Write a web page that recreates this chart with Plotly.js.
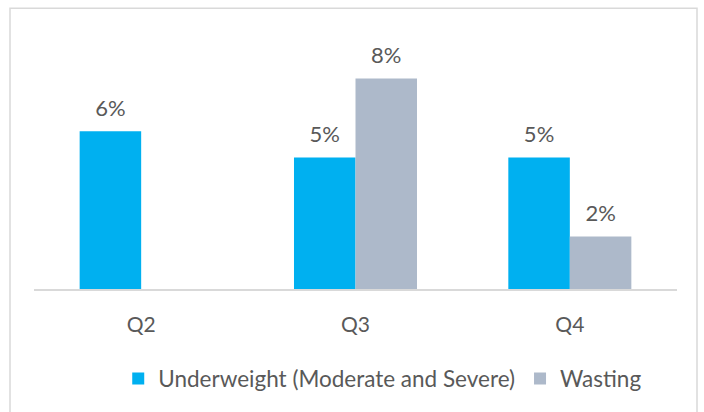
<!DOCTYPE html>
<html>
<head>
<meta charset="utf-8">
<script src="https://cdn.plot.ly/plotly-3.0.1.min.js"></script>
<style>
html,body{margin:0;padding:0;background:#fff;}
#chart{width:704px;height:412px;}
</style>
</head>
<body>
<div id="chart"></div>
<script>
const categories = ["Q2", "Q3", "Q4"];
const seriesNames = ["Underweight (Moderate and Severe)", "Wasting"];
const underweight = [6, 5, 5];
const wasting = [null, 8, 2];

const FONT = "Lato, 'Open Sans', sans-serif";
const TXT = "#595959";
const LBL = v => v == null ? "" : "<span style='font-size:22px'>" + v + "%</span><br> ";

const traces = [
  {
    type: "bar", name: seriesNames[0], x: categories, y: underweight,
    marker: {color: "#00B0F0"},
    text: underweight.map(LBL),
    textposition: "outside", cliponaxis: false, constraintext: "none",
    textfont: {family: FONT, size: 8, color: TXT},
    hoverinfo: "none"
  },
  {
    type: "bar", name: seriesNames[1], x: categories, y: wasting,
    marker: {color: "#ADB9CA"},
    text: wasting.map(LBL),
    textposition: "outside", cliponaxis: false, constraintext: "none",
    textfont: {family: FONT, size: 8, color: TXT},
    hoverinfo: "none"
  }
];

const layout = {
  width: 704, height: 412,
  margin: {l: 34, r: 27, t: 26, b: 121},
  paper_bgcolor: "#fff", plot_bgcolor: "#fff",
  barmode: "group", bargap: 0.426, bargroupgap: 0,
  font: {family: FONT, color: TXT, size: 22},
  showlegend: true,
  legend: {
    orientation: "h", x: 0.131, xanchor: "left", y: -0.26, yanchor: "top",
    font: {family: FONT, size: 22.5, color: TXT}, traceorder: "normal",
    itemclick: false
  },
  xaxis: {
    type: "category", showgrid: false, zeroline: false,
    showline: true, linecolor: "#D9D9D9", linewidth: 1.5,
    ticks: "outside", ticklen: 16, tickcolor: "rgba(0,0,0,0)",
    tickfont: {family: FONT, size: 21, color: TXT},
    fixedrange: true
  },
  yaxis: {
    range: [0, 10], visible: false, showgrid: false, zeroline: false, fixedrange: true
  },
  shapes: [{
    type: "rect", xref: "paper", yref: "paper",
    x0: (10 - 34) / 643, x1: (697 - 34) / 643,
    y0: -0.6, y1: 1 + (26 - 8) / 265,
    line: {color: "#D9D9D9", width: 1.5}, fillcolor: "rgba(0,0,0,0)", layer: "below"
  }]
};

Plotly.newPlot("chart", traces, layout, {displayModeBar: false, staticPlot: true});
</script>
</body>
</html>
